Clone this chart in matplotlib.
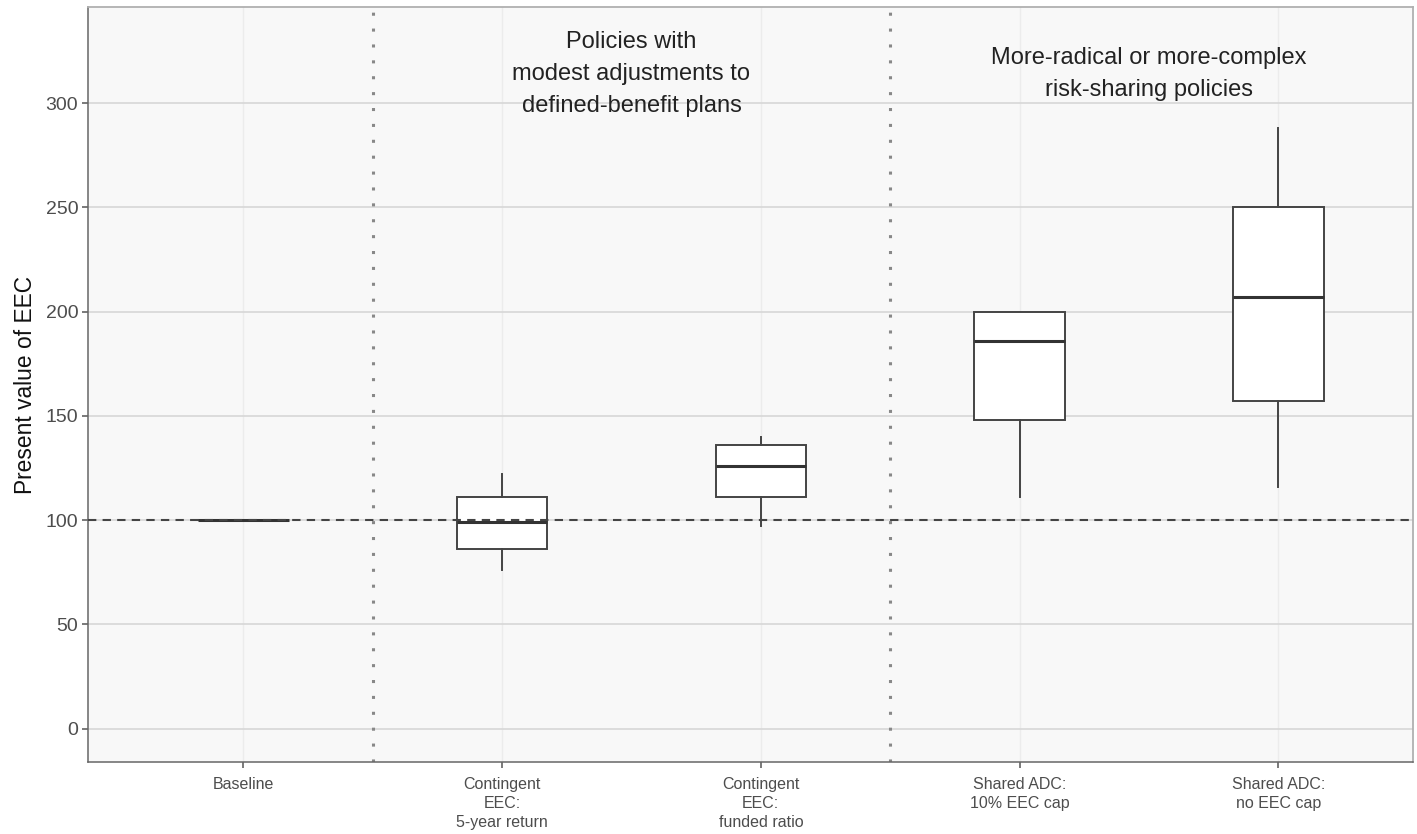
import matplotlib
matplotlib.use("Agg")
import matplotlib.pyplot as plt

plt.rcParams['font.family'] = ['Liberation Sans', 'DejaVu Sans']

# data (present value of EEC, baseline = 100)
policies = ["Baseline", "Contingent\nEEC:\n5-year return", "Contingent\nEEC:\nfunded ratio",
            "Shared ADC:\n10% EEC cap", "Shared ADC:\nno EEC cap"]
whislo = [100, 76, 97, 111, 116]
q1 = [100, 86, 111, 148, 157]
med = [100, 99, 126, 186, 207]
q3 = [100, 111, 136, 200, 250]
whishi = [100, 122, 140, 200, 288]

group_labels = ["Policies with\nmodest adjustments to\ndefined-benefit plans",
                "More-radical or more-complex\nrisk-sharing policies"]
group_x = [2.5, 4.5]
group_y = 314
dividers = [1.5, 3.5]
baseline_value = 100

stats = []
for i in range(len(policies)):
    stats.append(dict(whislo=whislo[i], q1=q1[i], med=med[i], q3=q3[i],
                      whishi=whishi[i], fliers=[]))

fig = plt.figure(figsize=(14.17, 8.34), dpi=100)
ax = fig.add_axes([0.0621, 0.0863, 0.9351, 0.9049])
ax.set_facecolor("#f8f8f8")

positions = list(range(1, len(policies) + 1))
ax.bxp(stats, positions=positions, widths=0.35, showfliers=False, showcaps=False,
       patch_artist=True,
       boxprops=dict(facecolor="white", edgecolor="#444444", linewidth=1.4),
       whiskerprops=dict(color="#444444", linewidth=1.4),
       medianprops=dict(color="#333333", linewidth=2.2),
       zorder=3)

ax.axhline(baseline_value, color="#444444", lw=1.5, ls=(0, (4, 3)), zorder=4)
for d in dividers:
    ax.axvline(d, color="#888888", lw=2.2, ls=(0, (1, 4.2)), zorder=2)

for gx, gl in zip(group_x, group_labels):
    ax.text(gx, group_y, gl, ha="center", va="center", fontsize=17,
            linespacing=1.6, color="#222222", zorder=5)

ax.set_xlim(0.4, 5.52)
ax.set_ylim(-16, 346)
ax.set_yticks(range(0, 301, 50))
ax.set_xticks(positions)
ax.set_xticklabels(policies, fontsize=11.5, color="#4d4d4d", linespacing=1.35)
ax.tick_params(axis="y", labelsize=14, labelcolor="#4d4d4d", pad=3)
ax.tick_params(axis="x", pad=6.5)
ax.tick_params(axis="both", color="#555555", length=4, width=1.1)
ax.set_ylabel("Present value of EEC", fontsize=16.4, color="#111111", labelpad=6)

ax.grid(axis="y", color="#d9d9d9", lw=1.3, zorder=0)
ax.grid(axis="x", color="#ececec", lw=1.0, zorder=0)
ax.set_axisbelow(True)
for side in ["top", "right"]:
    ax.spines[side].set_color("#b0b0b0")
    ax.spines[side].set_linewidth(1.3)
for side in ["left", "bottom"]:
    ax.spines[side].set_color("#666666")
    ax.spines[side].set_linewidth(1.1)

fig.savefig("out.png", dpi=100)
